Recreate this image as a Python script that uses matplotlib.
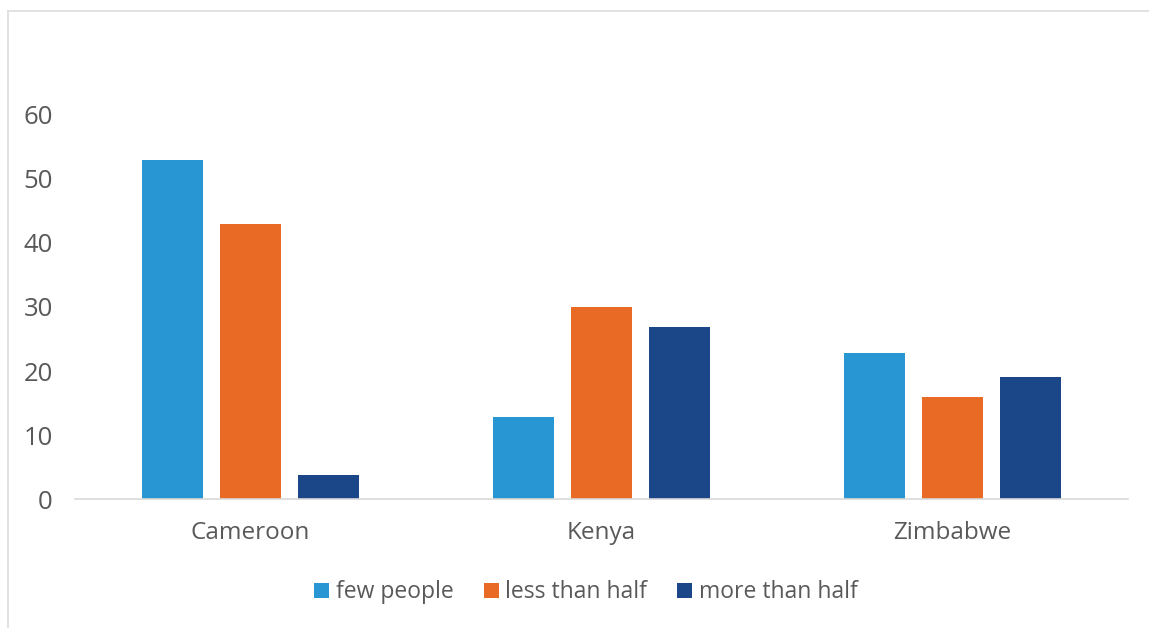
import numpy as np
import matplotlib.pyplot as plt
from matplotlib.lines import Line2D

countries = ["Cameroon", "Kenya", "Zimbabwe"]
series = ["few people", "less than half", "more than half"]
few_people = [53, 12.8, 22.8]
less_than_half = [43, 30, 15.9]
more_than_half = [3.8, 26.9, 19.1]
colors = ["#2896d3", "#e86a25", "#1b4788"]

plt.rcParams['font.family'] = ['Open Sans', 'DejaVu Sans']

fig = plt.figure(figsize=(11.49, 6.28), dpi=100)
ax = fig.add_axes([0.0653, 0.2054, 0.9164, 0.6115])

x = np.arange(len(countries))
width = 0.174
step = 0.222
for i, (vals, name) in enumerate(zip([few_people, less_than_half, more_than_half], series)):
    ax.bar(x + (i - 1) * step, vals, width, color=colors[i], label=name, zorder=2)

ax.set_xlim(-0.5, 2.5)
ax.set_ylim(0, 60)
ax.set_yticks(range(0, 61, 10))
ax.set_xticks(x)
ax.set_xticklabels(countries)
ax.tick_params(axis='y', length=0, pad=16, labelsize=18.5, labelcolor='#595959')
ax.tick_params(axis='x', length=0, pad=16, labelsize=17.5, labelcolor='#595959')
for s in ['top', 'right', 'left']:
    ax.spines[s].set_visible(False)
ax.spines['bottom'].set_color('#d9d9d9')
ax.spines['bottom'].set_linewidth(1.2)

leg = fig.legend(loc='center', bbox_to_anchor=(0.51, 0.057), ncol=3, frameon=False,
                 fontsize=16.5, handlelength=0.65, handleheight=0.65, handletextpad=0.3,
                 columnspacing=1.3, labelcolor='#595959')

# outer frame lines (top and left)
fig.add_artist(Line2D([8 / 1149, 1], [1 - 11 / 628, 1 - 11 / 628], color='#dddddd', lw=1.2))
fig.add_artist(Line2D([8 / 1149, 8 / 1149], [0, 1 - 11 / 628], color='#dddddd', lw=1.2))

fig.savefig('out.png', dpi=100)
